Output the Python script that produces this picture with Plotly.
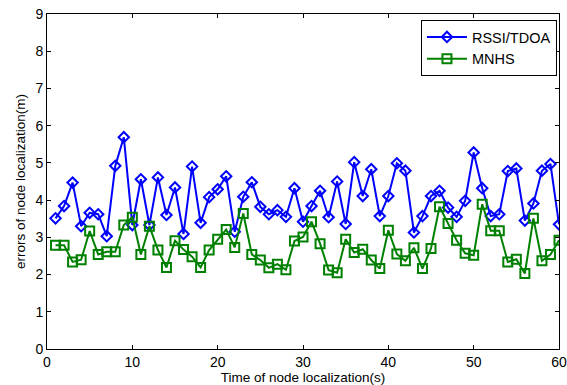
import plotly.graph_objects as go

x_time = list(range(1, 61))
rssi_tdoa = [3.51, 3.84, 4.47, 3.30, 3.66, 3.62, 3.03, 4.92, 5.69, 3.33,
             4.56, 3.33, 4.61, 3.60, 4.34, 3.09, 4.90, 3.39, 4.08, 4.29,
             4.64, 3.15, 4.09, 4.48, 3.82, 3.62, 3.73, 3.55, 4.32, 3.42,
             3.84, 4.25, 3.54, 4.50, 3.36, 5.02, 4.11, 4.83, 3.57, 4.11,
             4.99, 4.79, 3.13, 3.57, 4.11, 4.25, 3.80, 3.55, 3.98, 5.28,
             4.32, 3.57, 3.62, 4.78, 4.85, 3.45, 3.91, 4.79, 4.97, 3.35]
mnhs = [2.79, 2.79, 2.34, 2.40, 3.17, 2.54, 2.61, 2.61, 3.33, 3.54,
        2.54, 3.30, 2.66, 2.19, 2.91, 2.67, 2.48, 2.19, 2.66, 2.95,
        3.21, 2.73, 3.64, 2.54, 2.39, 2.18, 2.28, 2.13, 2.90, 3.01,
        3.42, 2.83, 2.12, 2.05, 2.95, 2.59, 2.68, 2.39, 2.16, 3.19,
        2.55, 2.37, 2.72, 2.16, 2.70, 3.82, 3.37, 2.92, 2.57, 2.52,
        3.89, 3.18, 3.18, 2.34, 2.41, 2.03, 3.51, 2.37, 2.54, 2.92]

x_ticks = [0, 10, 20, 30, 40, 50, 60]
y_ticks = list(range(0, 10))

FONT = "Liberation Sans, Arial"

fig = go.Figure()
fig.add_trace(go.Scatter(
    x=x_time, y=rssi_tdoa, name="RSSI/TDOA", mode="lines+markers",
    line=dict(color="#0000FF", width=2),
    marker=dict(symbol="diamond-open", size=8, color="#0000FF",
                line=dict(width=2, color="#0000FF"))))
fig.add_trace(go.Scatter(
    x=x_time, y=mnhs, name="MNHS", mode="lines+markers",
    line=dict(color="#008000", width=2),
    marker=dict(symbol="square-open", size=9, color="#008000",
                line=dict(width=2, color="#008000"))))

axis_common = dict(showgrid=False, zeroline=False, showline=True,
                   linecolor="black", linewidth=1, mirror="ticks",
                   ticks="inside", ticklen=4, tickcolor="black",
                   automargin=False,
                   tickfont=dict(family=FONT, size=14, color="black"))

fig.update_xaxes(range=[0, 60], tickvals=x_ticks,
                 title=dict(text="Time of node localization(s)",
                            font=dict(family=FONT, size=13.5, color="black"),
                            standoff=2),
                 **axis_common)
fig.update_yaxes(range=[0, 9], tickvals=y_ticks,
                 title=dict(text="errors of node localization(m)",
                            font=dict(family=FONT, size=13.5, color="black"),
                            standoff=6),
                 **axis_common)

fig.update_layout(
    width=567, height=385,
    margin=dict(l=47, r=8, t=14, b=36),
    paper_bgcolor="white", plot_bgcolor="white",
    font=dict(family=FONT, color="black"),
    legend=dict(x=0.996, y=0.982, xanchor="right", yanchor="top",
                bordercolor="black", borderwidth=1, bgcolor="white",
                font=dict(family=FONT, size=14.5, color="black"),
                itemwidth=40, tracegroupgap=0),
    showlegend=True,
)

fig.write_html("out.html")
